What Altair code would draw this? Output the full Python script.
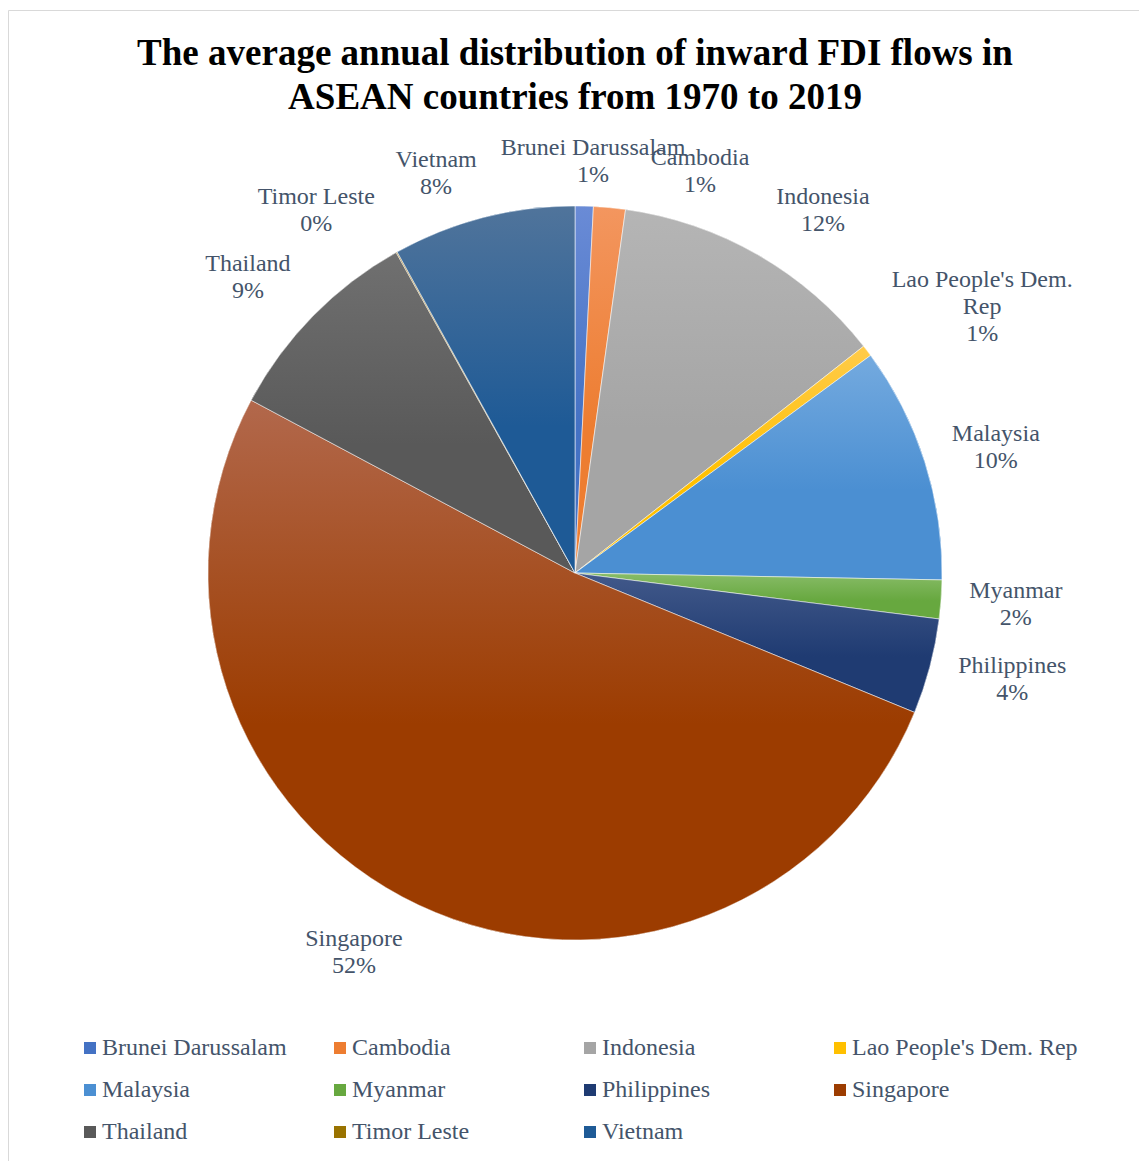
import math
import altair as alt
import pandas as pd

# ---------------- data ----------------
countries = ["Brunei Darussalam", "Cambodia", "Indonesia", "Lao People's Dem. Rep",
             "Malaysia", "Myanmar", "Philippines", "Singapore", "Thailand",
             "Timor Leste", "Vietnam"]
shares = [0.8, 1.4, 12.2, 0.5, 10.4, 1.7, 4.2, 51.6, 9.1, 0.05, 8.05]

# ---------------- styling ----------------
base_colors = ["#4472c4", "#ed7d31", "#a5a5a5", "#ffc000", "#4b8fd2", "#67a83f",
               "#1f3b72", "#9c3c00", "#595959", "#997300", "#1e5a96"]
top_colors = ["#6a8bd6", "#f3965f", "#b5b5b5", "#ffcb4a", "#74aadf", "#88bc68",
              "#42598a", "#b2684c", "#707070", "#a8822e", "#50749b"]
label_breaks = {"Lao People's Dem. Rep": "Lao People's Dem.\nRep"}
# label placement (theta nudge in share units, radius in px) – layout only
label_layout = {
    "Brunei Darussalam": (0.3, 412), "Cambodia": (3.3, 421), "Indonesia": (1.25, 439),
    "Lao People's Dem. Rep": (0.77, 494), "Malaysia": (0.3, 439), "Myanmar": (0.0, 442),
    "Philippines": (-0.3, 450), "Singapore": (1.4, 439), "Thailand": (-0.65, 441),
    "Timor Leste": (-1.8, 445), "Vietnam": (-1.3, 423),
}
FONT = "Liberation Serif"
TEXT_COLOR = "#44546a"
R = 367

total = sum(shares)
df = pd.DataFrame({"country": countries, "share": shares})
df["end"] = df["share"].cumsum()
df["start"] = df["end"] - df["share"]
df["mid"] = (df["start"] + df["end"]) / 2
df["lab_theta"] = [m + label_layout[c][0] for m, c in zip(df["mid"], countries)]
df["lab_r"] = [label_layout[c][1] for c in countries]
df["label"] = [label_breaks.get(c, c) + "\n" + f"{math.floor(s / total * 100 + 0.5)}%"
               for c, s in zip(countries, shares)]

theta_scale = alt.Scale(domain=[0, total])

base = alt.Chart(df)

frame = alt.Chart(pd.DataFrame({"f": [0]})).mark_rect(
    fillOpacity=0, stroke="#d9d9d9", strokeWidth=1
).encode(x=alt.value(-2.5), y=alt.value(-129.5), x2=alt.value(1400), y2=alt.value(1400))

pie = base.mark_arc(outerRadius=R).encode(
    theta=alt.Theta("start:Q", scale=theta_scale),
    theta2="end:Q",
    color=alt.Color(
        "country:N",
        scale=alt.Scale(domain=countries, range=base_colors),
        sort=countries,
        legend=alt.Legend(
            title=None, orient="none", legendX=67, legendY=896, columns=4,
            direction="horizontal",
            gridAlign="all", columnPadding=0, rowPadding=18,
            symbolType="square", symbolSize=144, symbolStrokeWidth=0,
            labelFont=FONT, labelFontSize=24, labelColor=TEXT_COLOR,
            labelLimit=400, labelOffset=0, padding=0,
        ),
    ),
)

grad_layers = []
for c, top, bot in zip(countries, top_colors, base_colors):
    grad = {
        "gradient": "linear", "x1": 0, "y1": 0, "x2": 0, "y2": 1,
        "stops": [{"offset": 0, "color": top}, {"offset": 0.6, "color": bot},
                  {"offset": 1, "color": bot}],
    }
    grad_layers.append(
        base.transform_filter(alt.datum.country == c).mark_arc(
            outerRadius=R, color=grad, stroke="#ffffff", strokeWidth=1, strokeOpacity=0.55
        ).encode(theta=alt.Theta("start:Q", scale=theta_scale), theta2="end:Q")
    )

labels = base.mark_text(
    font=FONT, fontSize=24, color=TEXT_COLOR, align="center", baseline="middle",
    lineBreak="\n", lineHeight=27, dy=-13.5,
).encode(
    theta=alt.Theta("lab_theta:Q", scale=theta_scale, stack=False),
    radius=alt.Radius("lab_r:Q", scale=None),
    text="label:N",
)

chart = alt.layer(frame, pie, *grad_layers, labels).properties(
    width=1128, height=866,
    padding={"left": 11, "top": 140, "right": 0, "bottom": 155},
    autosize=alt.AutoSizeParams(type="none"),
    title=alt.Title(
        text=["The average annual distribution of inward FDI flows in",
              "ASEAN countries from 1970 to 2019"],
        font=FONT, fontSize=37, fontWeight="bold", color="#000000",
        anchor="middle", frame="group", offset=0, lineHeight=44,
        baseline="alphabetic", dy=136,
    ),
).configure_view(stroke=None)

chart.save("out.html", embed_options={"renderer": "svg", "actions": False})
